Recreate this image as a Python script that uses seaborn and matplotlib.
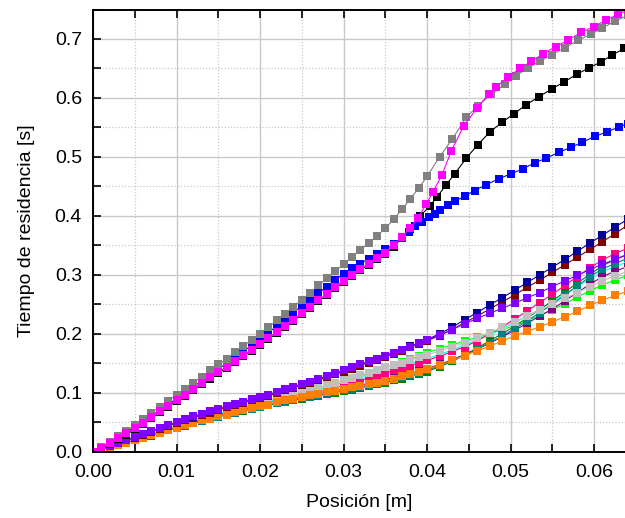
import matplotlib
matplotlib.use("Agg")
import matplotlib.pyplot as plt
import seaborn as sns
import pandas as pd
from matplotlib.ticker import MultipleLocator, FormatStrFormatter

sns.set_theme(style="white")
plt.rcParams['font.family'] = ['Liberation Sans', 'DejaVu Sans']

# ---------------- upper group ----------------
gray_x = [0.000, 0.001, 0.002, 0.003, 0.004, 0.005, 0.006, 0.007, 0.008, 0.009, 0.010,
          0.011, 0.012, 0.013, 0.014, 0.015, 0.016, 0.017, 0.018, 0.019, 0.020,
          0.021, 0.022, 0.023, 0.024, 0.025, 0.026, 0.027, 0.028, 0.029, 0.030,
          0.031, 0.032, 0.033, 0.034, 0.035, 0.036, 0.037, 0.038, 0.039, 0.040,
          0.0415, 0.0430, 0.0447, 0.0461, 0.0477, 0.0493, 0.0507, 0.0521, 0.0535, 0.0549,
          0.0565, 0.0581, 0.0596, 0.0610, 0.0625, 0.0640]
gray_y = [0.000, 0.008, 0.017, 0.026, 0.035, 0.045, 0.055, 0.066, 0.076, 0.086, 0.097,
          0.107, 0.117, 0.127, 0.138, 0.148, 0.158, 0.169, 0.179, 0.190, 0.200,
          0.211, 0.223, 0.234, 0.246, 0.258, 0.270, 0.282, 0.294, 0.306, 0.318,
          0.330, 0.342, 0.354, 0.366, 0.379, 0.394, 0.411, 0.429, 0.447, 0.467,
          0.500, 0.530, 0.567, 0.587, 0.606, 0.623, 0.638, 0.651, 0.662, 0.673,
          0.685, 0.698, 0.708, 0.719, 0.730, 0.740]

magenta_x = [0.000, 0.001, 0.002, 0.003, 0.004, 0.005, 0.006, 0.007, 0.008, 0.009, 0.010,
             0.011, 0.012, 0.013, 0.014, 0.015, 0.016, 0.017, 0.018, 0.019, 0.020,
             0.021, 0.022, 0.023, 0.024, 0.025, 0.026, 0.027, 0.028, 0.029, 0.030,
             0.031, 0.032, 0.033, 0.034, 0.035, 0.036, 0.037, 0.038,
             0.0389, 0.0399, 0.0407, 0.0418, 0.0429, 0.0444, 0.0460, 0.0474, 0.0482, 0.0497,
             0.0511, 0.0525, 0.0539, 0.0554, 0.0569, 0.0584, 0.0600, 0.0614, 0.0629, 0.0640]
magenta_y = [0.000, 0.007, 0.015, 0.023, 0.031, 0.040, 0.049, 0.059, 0.069, 0.078, 0.088,
             0.097, 0.107, 0.116, 0.126, 0.135, 0.144, 0.154, 0.164, 0.173, 0.183,
             0.193, 0.203, 0.214, 0.224, 0.235, 0.246, 0.257, 0.268, 0.279, 0.290,
             0.300, 0.310, 0.319, 0.328, 0.337, 0.350, 0.364, 0.380,
             0.396, 0.420, 0.440, 0.470, 0.510, 0.553, 0.583, 0.607, 0.618, 0.635,
             0.650, 0.662, 0.675, 0.687, 0.698, 0.711, 0.721, 0.732, 0.742, 0.749]

blue_x = [0.000, 0.001, 0.002, 0.003, 0.004, 0.005, 0.006, 0.007, 0.008, 0.009, 0.010,
          0.011, 0.012, 0.013, 0.014, 0.015, 0.016, 0.017, 0.018, 0.019, 0.020,
          0.021, 0.022, 0.023, 0.024, 0.025, 0.026, 0.027, 0.028, 0.029, 0.030,
          0.031, 0.032, 0.033, 0.034, 0.035, 0.036, 0.037,
          0.0378, 0.0386, 0.0394, 0.0402, 0.0409, 0.0416, 0.0425, 0.0434, 0.0446, 0.0457,
          0.0471, 0.0486, 0.0500, 0.0515, 0.0529, 0.0543, 0.0558, 0.0572, 0.0586, 0.0601,
          0.0615, 0.0630, 0.0640]
blue_y = [0.000, 0.008, 0.016, 0.024, 0.033, 0.042, 0.051, 0.061, 0.071, 0.080, 0.090,
          0.100, 0.110, 0.120, 0.130, 0.140, 0.150, 0.160, 0.170, 0.180, 0.191,
          0.202, 0.213, 0.224, 0.236, 0.247, 0.258, 0.269, 0.280, 0.291, 0.302,
          0.311, 0.319, 0.327, 0.335, 0.343, 0.352, 0.362,
          0.372, 0.382, 0.390, 0.398, 0.404, 0.410, 0.418, 0.425, 0.434, 0.443,
          0.453, 0.463, 0.471, 0.480, 0.490, 0.498, 0.508, 0.516, 0.525, 0.535,
          0.542, 0.551, 0.556]

black_x = [0.000, 0.001, 0.002, 0.003, 0.004, 0.005, 0.006, 0.007, 0.008, 0.009, 0.010,
           0.011, 0.012, 0.013, 0.014, 0.015, 0.016, 0.017, 0.018, 0.019, 0.020,
           0.021, 0.022, 0.023, 0.024, 0.025, 0.026, 0.027, 0.028, 0.029, 0.030,
           0.031, 0.032, 0.033, 0.034, 0.035, 0.036, 0.037, 0.038,
           0.0391, 0.0403, 0.0412, 0.0423, 0.0433, 0.0447, 0.0461, 0.0475, 0.0490, 0.0504,
           0.0518, 0.0534, 0.0550, 0.0564, 0.0579, 0.0594, 0.0608, 0.0622, 0.0636]
black_y = [0.000, 0.005, 0.013, 0.021, 0.029, 0.038, 0.047, 0.057, 0.067, 0.076, 0.086,
           0.095, 0.105, 0.114, 0.124, 0.133, 0.142, 0.152, 0.162, 0.171, 0.181,
           0.191, 0.201, 0.212, 0.222, 0.233, 0.244, 0.255, 0.266, 0.277, 0.288,
           0.298, 0.308, 0.317, 0.326, 0.335, 0.348, 0.362, 0.378,
           0.399, 0.416, 0.432, 0.453, 0.471, 0.498, 0.521, 0.542, 0.559, 0.573,
           0.588, 0.602, 0.616, 0.627, 0.640, 0.651, 0.661, 0.673, 0.684]

# ---------------- lower group (shared positions) ----------------
x_lower = [0.000, 0.001, 0.002, 0.003, 0.004, 0.005, 0.006, 0.007, 0.008, 0.009, 0.010,
           0.011, 0.012, 0.013, 0.014, 0.015, 0.016, 0.017, 0.018, 0.019, 0.020,
           0.021, 0.022, 0.023, 0.024, 0.025, 0.026, 0.027, 0.028, 0.029, 0.030,
           0.031, 0.032, 0.033, 0.034, 0.035, 0.036, 0.037, 0.038, 0.039, 0.040,
           0.0415, 0.0430, 0.0445, 0.0460, 0.0475, 0.0490, 0.0505, 0.0520, 0.0535, 0.0550,
           0.0565, 0.0580, 0.0595, 0.0610, 0.0625, 0.0640]

navy_y = [0.000, 0.005, 0.010, 0.015, 0.020, 0.025, 0.030, 0.035, 0.040, 0.045, 0.050,
          0.055, 0.059, 0.064, 0.068, 0.073, 0.077, 0.081, 0.085, 0.089, 0.093,
          0.097, 0.101, 0.106, 0.110, 0.115, 0.119, 0.124, 0.128, 0.133, 0.138,
          0.143, 0.148, 0.153, 0.158, 0.163, 0.168, 0.173, 0.179, 0.184, 0.190,
          0.200, 0.211, 0.224, 0.236, 0.249, 0.261, 0.274, 0.287, 0.300, 0.313,
          0.326, 0.340, 0.354, 0.367, 0.381, 0.394]
maroon_y = [0.000, 0.004, 0.009, 0.014, 0.019, 0.024, 0.029, 0.034, 0.039, 0.044, 0.048,
            0.053, 0.057, 0.062, 0.066, 0.071, 0.075, 0.079, 0.083, 0.087, 0.091,
            0.095, 0.099, 0.104, 0.108, 0.113, 0.117, 0.122, 0.126, 0.131, 0.136,
            0.141, 0.146, 0.151, 0.156, 0.161, 0.166, 0.171, 0.177, 0.182, 0.188,
            0.197, 0.207, 0.219, 0.230, 0.242, 0.254, 0.266, 0.279, 0.291, 0.304,
            0.317, 0.330, 0.343, 0.356, 0.370, 0.384]
violet_y = [0.000, 0.005, 0.010, 0.015, 0.020, 0.025, 0.030, 0.035, 0.040, 0.045, 0.050,
            0.055, 0.060, 0.064, 0.069, 0.073, 0.077, 0.081, 0.085, 0.089, 0.093,
            0.097, 0.101, 0.106, 0.110, 0.115, 0.119, 0.124, 0.128, 0.133, 0.138,
            0.143, 0.148, 0.153, 0.158, 0.163, 0.168, 0.173, 0.178, 0.184, 0.189,
            0.198, 0.207, 0.217, 0.226, 0.235, 0.243, 0.252, 0.261, 0.270, 0.280,
            0.290, 0.299, 0.309, 0.318, 0.326, 0.334]
lgray_y = [0.000, 0.004, 0.009, 0.013, 0.018, 0.022, 0.027, 0.031, 0.036, 0.040, 0.045,
           0.049, 0.054, 0.058, 0.063, 0.067, 0.071, 0.074, 0.077, 0.081, 0.084,
           0.087, 0.091, 0.094, 0.097, 0.101, 0.105, 0.109, 0.113, 0.117, 0.121,
           0.125, 0.130, 0.134, 0.139, 0.143, 0.147, 0.151, 0.156, 0.160, 0.164,
           0.171, 0.178, 0.185, 0.193, 0.202, 0.211, 0.220, 0.230, 0.240, 0.250,
           0.260, 0.270, 0.280, 0.290, 0.298, 0.306]
pink_y = [0.000, 0.004, 0.008, 0.012, 0.016, 0.020, 0.024, 0.029, 0.033, 0.038, 0.042,
          0.046, 0.050, 0.054, 0.057, 0.061, 0.065, 0.068, 0.071, 0.075, 0.078,
          0.081, 0.084, 0.087, 0.090, 0.093, 0.097, 0.101, 0.105, 0.109, 0.113,
          0.117, 0.121, 0.125, 0.130, 0.134, 0.138, 0.142, 0.146, 0.151, 0.155,
          0.162, 0.170, 0.178, 0.188, 0.200, 0.212, 0.225, 0.239, 0.253, 0.267,
          0.282, 0.297, 0.312, 0.325, 0.336, 0.345]
dgreen_y = [0.000, 0.004, 0.008, 0.011, 0.015, 0.019, 0.023, 0.027, 0.032, 0.036, 0.040,
            0.044, 0.048, 0.052, 0.055, 0.059, 0.063, 0.066, 0.069, 0.073, 0.076,
            0.079, 0.082, 0.085, 0.087, 0.090, 0.093, 0.095, 0.098, 0.100, 0.103,
            0.105, 0.108, 0.111, 0.114, 0.117, 0.121, 0.124, 0.128, 0.132, 0.136,
            0.144, 0.153, 0.164, 0.176, 0.188, 0.200, 0.213, 0.227, 0.241, 0.256,
            0.271, 0.286, 0.301, 0.315, 0.326, 0.335]
teal_y = [0.000, 0.004, 0.008, 0.012, 0.015, 0.019, 0.023, 0.028, 0.032, 0.036, 0.040,
          0.044, 0.048, 0.052, 0.056, 0.059, 0.063, 0.066, 0.070, 0.073, 0.076,
          0.079, 0.082, 0.085, 0.088, 0.091, 0.093, 0.096, 0.099, 0.101, 0.104,
          0.107, 0.110, 0.113, 0.116, 0.119, 0.123, 0.126, 0.130, 0.134, 0.138,
          0.146, 0.155, 0.164, 0.174, 0.185, 0.196, 0.209, 0.222, 0.236, 0.250,
          0.266, 0.281, 0.297, 0.310, 0.319, 0.328]
purple_y = [0.000, 0.004, 0.008, 0.012, 0.016, 0.020, 0.024, 0.028, 0.032, 0.036, 0.041,
            0.045, 0.049, 0.052, 0.056, 0.060, 0.063, 0.067, 0.070, 0.073, 0.077,
            0.080, 0.083, 0.086, 0.089, 0.092, 0.095, 0.098, 0.101, 0.104, 0.107,
            0.110, 0.113, 0.116, 0.119, 0.122, 0.126, 0.129, 0.133, 0.137, 0.141,
            0.148, 0.156, 0.165, 0.174, 0.184, 0.195, 0.206, 0.218, 0.230, 0.242,
            0.256, 0.270, 0.284, 0.297, 0.306, 0.314]
lgreen_y = [0.000, 0.004, 0.008, 0.012, 0.016, 0.020, 0.025, 0.029, 0.034, 0.038, 0.043,
            0.047, 0.051, 0.055, 0.059, 0.063, 0.066, 0.070, 0.073, 0.077, 0.080,
            0.083, 0.087, 0.090, 0.093, 0.097, 0.101, 0.105, 0.109, 0.113, 0.118,
            0.123, 0.128, 0.132, 0.137, 0.142, 0.147, 0.152, 0.157, 0.163, 0.168,
            0.175, 0.181, 0.188, 0.194, 0.200, 0.207, 0.214, 0.222, 0.231, 0.241,
            0.251, 0.262, 0.273, 0.283, 0.291, 0.299]
orange_y = [0.000, 0.004, 0.008, 0.011, 0.015, 0.019, 0.023, 0.028, 0.032, 0.037, 0.041,
            0.045, 0.049, 0.053, 0.056, 0.060, 0.063, 0.067, 0.070, 0.074, 0.077,
            0.080, 0.084, 0.087, 0.090, 0.093, 0.096, 0.098, 0.101, 0.103, 0.106,
            0.109, 0.111, 0.114, 0.117, 0.120, 0.124, 0.128, 0.132, 0.136, 0.140,
            0.147, 0.155, 0.163, 0.171, 0.179, 0.188, 0.196, 0.204, 0.212, 0.220,
            0.229, 0.238, 0.248, 0.257, 0.265, 0.272]
cyan_y = [0.000, 0.004, 0.009, 0.013, 0.017, 0.021, 0.026, 0.030, 0.035, 0.039, 0.044,
          0.048, 0.052, 0.056, 0.060, 0.064, 0.068, 0.071, 0.075, 0.078, 0.082,
          0.085, 0.089, 0.092, 0.095, 0.099, 0.102, 0.106, 0.110, 0.114, 0.118,
          0.122, 0.126, 0.130, 0.134, 0.138, 0.142, 0.146, 0.150, 0.154, 0.158,
          0.165, 0.173, 0.181, 0.190, 0.199, 0.209, 0.219, 0.230, 0.242, 0.254,
          0.267, 0.280, 0.293, 0.305, 0.314, 0.322]

# drawing order (first = bottom)
lower_series = [
    ("#00FFFF", cyan_y), ("#00FF00", lgreen_y), ("#800080", purple_y),
    ("#008000", dgreen_y), ("#008080", teal_y), ("#FF0080", pink_y),
    ("#C0C0C0", lgray_y), ("#FF8000", orange_y),
    ("#800000", maroon_y), ("#000099", navy_y), ("#8000FF", violet_y),
]
upper_series = [
    ("#000000", black_x, black_y), ("#0000FF", blue_x, blue_y),
    ("#808080", gray_x, gray_y), ("#FF00FF", magenta_x, magenta_y),
]

W, H = 625, 518
fig = plt.figure(figsize=(W / 100, H / 100), dpi=100)
left, right, top, bottom = 93, 625, 9.5, 451.7
ax = fig.add_axes([left / W, 1 - bottom / H, (right - left) / W, (bottom - top) / H])

style = dict(marker="s", markersize=5.2, markeredgewidth=0, linewidth=0.8,
             estimator=None, sort=False, legend=False, ax=ax)
for col, ys in lower_series:
    sns.lineplot(x=x_lower, y=ys, color=col, **style)
for col, xs, ys in upper_series:
    sns.lineplot(x=xs, y=ys, color=col, **style)

ax.set_xlim(0, 0.0637)
ax.set_ylim(0, 0.75)
ax.xaxis.set_major_locator(MultipleLocator(0.01))
ax.xaxis.set_minor_locator(MultipleLocator(0.005))
ax.yaxis.set_major_locator(MultipleLocator(0.1))
ax.yaxis.set_minor_locator(MultipleLocator(0.05))
ax.xaxis.set_major_formatter(FormatStrFormatter("%.2f"))
ax.yaxis.set_major_formatter(FormatStrFormatter("%.1f"))

ax.grid(which="major", color="#c8c8c8", linewidth=1.0, linestyle="-")
ax.grid(which="minor", color="#c8c8c8", linewidth=0.9, linestyle=(0, (1, 1.5)))
ax.set_axisbelow(True)

for s in ["left", "bottom", "top"]:
    ax.spines[s].set_visible(True)
    ax.spines[s].set_color("black")
    ax.spines[s].set_linewidth(1.4)
ax.spines["right"].set_visible(False)

ax.tick_params(which="both", direction="in", top=True, bottom=True, left=True,
               right=False, length=6, width=1.2, color="black")
ax.tick_params(which="major", labelsize=14, labelcolor="black")
ax.tick_params(axis="x", which="major", pad=9)
ax.tick_params(axis="y", which="major", pad=8)

ax.set_xlabel("Posición [m]", fontsize=14, color="black", labelpad=9)
ax.set_ylabel("Tiempo de residencia [s]", fontsize=14, color="black", labelpad=14)

fig.savefig("out.png", dpi=100)
